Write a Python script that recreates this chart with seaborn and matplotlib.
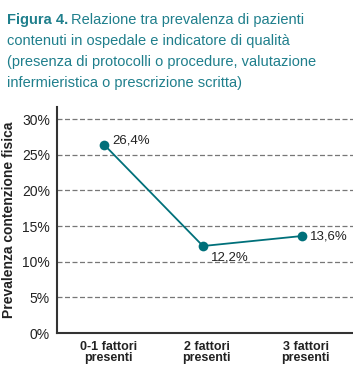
"""Figura 4 - prevalenza contenzione fisica per indicatore di qualita."""

import matplotlib.pyplot as plt
import pandas as pd
import seaborn as sns
from matplotlib.ticker import FixedLocator

# Data
categories = ["0-1 fattori\npresenti", "2 fattori\npresenti", "3 fattori\npresenti"]
prevalence = [26.4, 12.2, 13.6]
value_labels = ["26,4%", "12,2%", "13,6%"]
yticks = [0, 5, 10, 15, 20, 25, 30]

df = pd.DataFrame({"pos": range(len(categories)), "prev": prevalence})

sns.set_style("white")
plt.rcParams["font.family"] = ["Liberation Sans", "DejaVu Sans"]

teal = "#00707a"
title_col = "#1f7f8c"

fig = plt.figure(figsize=(3.53, 3.78), dpi=100)
ax = fig.add_axes([0.161, 0.119, 0.839, 0.598])

sns.lineplot(data=df, x="pos", y="prev", color=teal, linewidth=1.3,
             marker="o", markersize=7, markeredgewidth=0, ax=ax)

# value labels
offsets = [(6, 3), (6, -8), (6, 0)]
for x, y, lab, off in zip(df["pos"], prevalence, value_labels, offsets):
    ax.annotate(lab, (x, y), xytext=off, textcoords="offset points",
                ha="left", va="center", fontsize=9.5, color="#222222")

ax.set_xlim(-0.48, 2.52)
ax.set_ylim(0, 31.7)
ax.set_yticks(yticks)
ax.set_yticklabels([f"{t}%" for t in yticks], fontsize=10, color="#222222")
ax.set_xticks([p + 0.04 for p in range(len(categories))])
ax.set_xticklabels(categories, fontsize=9, fontweight="bold", linespacing=0.85,
                   color="#222222")
ax.tick_params(axis="x", length=0, pad=6)
ax.tick_params(axis="y", length=4, width=0.8, color="#444444", pad=1)
ax.xaxis.set_minor_locator(FixedLocator([0.52, 1.52]))
ax.tick_params(axis="x", which="minor", length=5, width=1.5, color="#333333",
               direction="out")

for t in yticks[1:]:
    ax.axhline(t, color="#777777", linestyle=(0, (4, 2)), linewidth=0.9, zorder=0)

ax.set_xlabel("")
ax.set_ylabel("Prevalenza contenzione fisica", fontsize=10, fontweight="bold",
              color="#222222", labelpad=4)

for side in ["top", "right"]:
    ax.spines[side].set_visible(False)
for side in ["left", "bottom"]:
    ax.spines[side].set_color("#333333")
    ax.spines[side].set_linewidth(1.5)

# Title, one line at a time
title_lines = [
    "contenuti in ospedale e indicatore di qualità",
    "(presenza di protocolli o procedure, valutazione",
    "infermieristica o prescrizione scritta)",
]
fig.text(0.02, 0.965, "Figura 4.", fontsize=10.5, fontweight="bold",
         color=title_col, va="top")
fig.text(0.20, 0.965, "Relazione tra prevalenza di pazienti", fontsize=10.5,
         color=title_col, va="top")
for i, line in enumerate(title_lines):
    fig.text(0.02, 0.965 - (i + 1) * 0.0555, line, fontsize=10.5,
             color=title_col, va="top")

plt.savefig("out.png", dpi=100)
print("Generated: out.png")
